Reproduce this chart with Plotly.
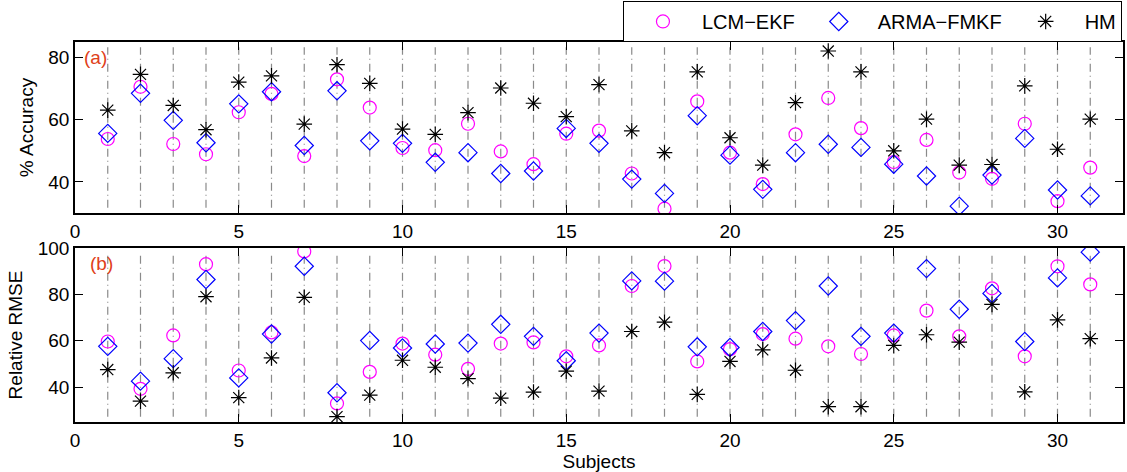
import plotly.graph_objects as go

subjects = list(range(1, 32))

acc_lcm = [53.8, 70.6, 52.2, 48.9, 62.4, 68.3, 48.3, 73.0, 63.9, 50.9,
           50.2, 58.7, 49.8, 45.7, 55.5, 56.5, 42.7, 31.4, 65.9, 49.4,
           39.3, 55.3, 67.0, 57.3, 46.4, 53.5, 43.0, 41.0, 58.7, 33.8, 44.6]
acc_arma = [55.6, 68.5, 59.8, 52.6, 65.1, 69.0, 51.7, 69.3, 53.2, 52.4,
            46.3, 49.4, 42.7, 43.5, 57.2, 52.4, 40.9, 36.3, 61.3, 48.6,
            37.6, 49.4, 52.1, 51.1, 45.7, 41.9, 32.2, 42.2, 54.0, 37.4, 35.5]
acc_hm = [63.1, 74.6, 64.6, 56.8, 72.1, 74.1, 58.6, 77.7, 71.7, 57.0,
          55.3, 62.3, 70.2, 65.3, 61.0, 71.3, 56.4, 49.4, 75.4, 54.2,
          45.4, 65.5, 82.1, 75.4, 50.0, 60.2, 45.4, 45.6, 70.9, 50.5, 60.2]

rmse_lcm = [59.7, 39.3, 62.3, 93.0, 47.2, 63.6, 98.5, 33.0, 46.6, 58.8,
            54.0, 47.9, 58.8, 59.3, 53.3, 58.0, 83.6, 92.2, 51.1, 56.4,
            62.9, 60.9, 57.6, 54.3, 62.3, 73.0, 61.9, 82.6, 53.3, 92.1, 84.3]
rmse_arma = [57.6, 42.6, 52.3, 86.4, 44.0, 62.9, 92.1, 37.6, 60.1, 56.9,
             58.6, 59.0, 67.1, 61.9, 51.4, 63.3, 85.8, 85.7, 57.4, 57.1,
             64.0, 68.7, 83.6, 61.9, 63.3, 91.1, 73.6, 80.4, 59.7, 87.1, 98.2]
rmse_hm = [47.6, 34.0, 46.2, 79.0, 35.5, 52.6, 78.7, 27.3, 36.6, 51.6,
           48.6, 43.7, 35.3, 37.9, 46.9, 38.3, 64.0, 68.0, 36.9, 51.1,
           56.1, 47.3, 31.6, 31.6, 58.0, 62.6, 59.4, 75.7, 38.0, 69.0, 60.9]

names = ["LCM\u2212EKF", "ARMA\u2212FMKF", "HM"]
xticks = [0, 5, 10, 15, 20, 25, 30]
acc_ticks = [40, 60, 80]
rmse_ticks = [40, 60, 80, 100]

FONT = "Liberation Sans, Arial, sans-serif"
FS = 19
styles = [
    dict(symbol="circle-open", size=13, color="#ff00ff", line=dict(width=1.2, color="#ff00ff")),
    dict(symbol="diamond-open", size=14, color="#0000ff", line=dict(width=1.2, color="#0000ff")),
    dict(symbol="asterisk-open", size=13, color="#000000", line=dict(width=1.2, color="#000000")),
]

fig = go.Figure()

for i, (ya, yb) in enumerate([(acc_lcm, rmse_lcm), (acc_arma, rmse_arma), (acc_hm, rmse_hm)]):
    fig.add_trace(go.Scatter(x=subjects, y=ya, mode="markers", name=names[i],
                             marker=styles[i], xaxis="x", yaxis="y", showlegend=True))
    fig.add_trace(go.Scatter(x=subjects, y=yb, mode="markers", name=names[i],
                             marker=styles[i], xaxis="x2", yaxis="y2", showlegend=False))

shapes = []
for s in subjects:
    for xr, yr in [("x", "y domain"), ("x2", "y2 domain")]:
        shapes.append(dict(type="line", xref=xr, yref=yr, x0=s, x1=s, y0=0.03, y1=0.97,
                           line=dict(color="#8a8a8a", width=1.2, dash="8px,4px,1px,4px"),
                           layer="below"))

axis_common = dict(showgrid=False, zeroline=False, showline=True, linecolor="black",
                   linewidth=1.5, mirror="ticks", ticks="inside", ticklen=8,
                   tickcolor="black", tickwidth=1.2, automargin=False,
                   tickfont=dict(family=FONT, size=FS, color="black"))

fig.update_layout(
    width=1127, height=472,
    paper_bgcolor="white", plot_bgcolor="white",
    margin=dict(l=75, r=4, t=42, b=50, autoexpand=False),
    font=dict(family=FONT, size=FS, color="black"),
    shapes=shapes,
    xaxis=dict(domain=[0, 1], range=[0, 32], tickvals=xticks, anchor="y", **axis_common),
    yaxis=dict(domain=[0.55, 1], range=[30, 85], tickvals=acc_ticks, anchor="x",
               title=dict(text="% Accuracy", font=dict(family=FONT, size=FS), standoff=10),
               **axis_common),
    xaxis2=dict(domain=[0, 1], range=[0, 32], tickvals=xticks, anchor="y2",
                title=dict(text="Subjects", font=dict(family=FONT, size=FS), standoff=0),
                **axis_common),
    yaxis2=dict(domain=[0, 0.458], range=[25, 100], tickvals=rmse_ticks, anchor="x2",
                title=dict(text="Relative RMSE", font=dict(family=FONT, size=FS), standoff=10),
                **axis_common),
    legend=dict(orientation="h", x=0.999, xanchor="right", y=1.108, yanchor="top",
                bordercolor="black", borderwidth=1, bgcolor="white",
                font=dict(family=FONT, size=20, color="black"),
                itemwidth=68),
    annotations=[
        dict(text="(a)", xref="x domain", yref="y domain", x=0.007, y=0.985,
             xanchor="left", yanchor="top", showarrow=False,
             font=dict(family=FONT, size=FS, color="#e0401a")),
        dict(text="(b)", xref="x2 domain", yref="y2 domain", x=0.012, y=0.985,
             xanchor="left", yanchor="top", showarrow=False,
             font=dict(family=FONT, size=FS, color="#e0401a")),
    ],
)

fig.write_html("out.html", config={"displayModeBar": False},
               post_script="document.body.style.margin='0px';")
